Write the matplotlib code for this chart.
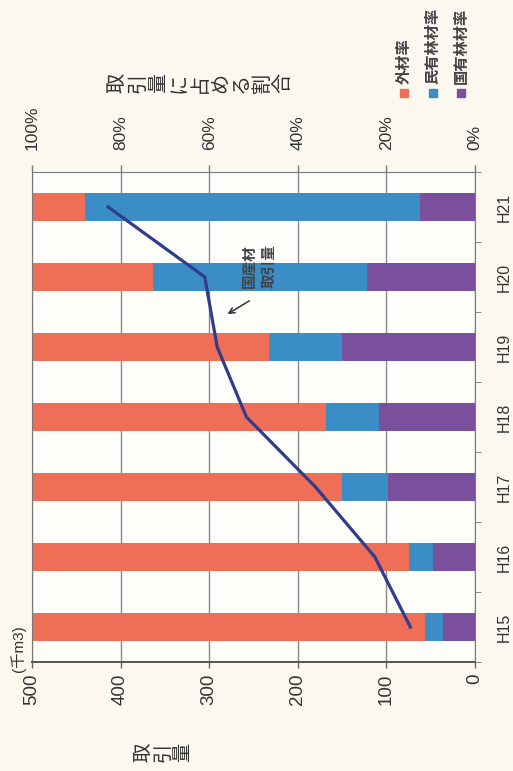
import numpy as np
import matplotlib
matplotlib.use('Agg')
import matplotlib.pyplot as plt
from matplotlib.patches import Rectangle

plt.rcParams['font.family'] = ['Liberation Sans', 'Noto Sans CJK JP', 'DejaVu Sans']

# 年度別の取引量と内訳
years = ['H15', 'H16', 'H17', 'H18', 'H19', 'H20', 'H21']
gaizai = [88.7, 85.2, 69.9, 66.3, 53.4, 27.4, 12.0]      # 外材率 (%)
minyurin = [4.1, 5.4, 10.5, 12.0, 16.6, 48.2, 75.6]     # 民有林材率 (%)
kokuyurin = [7.2, 9.4, 19.6, 21.7, 30.0, 24.4, 12.4]    # 国有林材率 (%)
kokusan = [73, 113, 180, 258, 291, 305, 414]            # 国産材取引量 (千m3)

pct_ticks = [0, 20, 40, 60, 80, 100]
vol_ticks = [0, 100, 200, 300, 400, 500]

c_red = '#ee6e58'
c_blue = '#3b8dc6'
c_purple = '#7a4f9c'
c_line = '#2f3d8c'
c_text = '#333333'
cjk = ['Noto Sans CJK JP', 'DejaVu Sans']

W, H = 513, 771
fig = plt.figure(figsize=(W / 100, H / 100), dpi=100, facecolor='#faf8ef')


def fx(px):
    return px / W


def fy(py):
    return 1 - py / H


ax = fig.add_axes([fx(32), fy(662), fx(475) - fx(32), fy(172) - fy(662)])
ax2 = ax.twiny()
ax.set_facecolor('#fdfdfa')

y = np.arange(len(years))
left = np.zeros(len(years))
for vals, col in [(kokuyurin, c_purple), (minyurin, c_blue), (gaizai, c_red)]:
    ax.barh(y, vals, left=left, height=0.4, color=col, zorder=2)
    left += np.array(vals)

ax.set_xlim(100, 0)
ax.set_ylim(-0.5, len(years) - 0.5)
ax.set_xticks(pct_ticks)
ax.set_xticklabels([f'{t}%' for t in pct_ticks])
ax.xaxis.tick_top()
ax.tick_params(axis='x', which='major', top=True, bottom=False, length=5,
               width=1, color='#777777', direction='out', pad=10.5,
               labelrotation=90, labelsize=12.5, labelcolor=c_text)
ax.grid(axis='x', color='#8a8a8a', linewidth=1, zorder=1)
ax.set_axisbelow(True)

ax.set_yticks(y)
ax.set_yticklabels(years)
ax.set_yticks(np.arange(-0.5, len(years), 1), minor=True)
ax.yaxis.tick_right()
ax.tick_params(axis='y', which='major', length=0, pad=16, labelsize=11.5,
               labelcolor=c_text)
ax.tick_params(axis='y', which='minor', right=True, left=False, length=4,
               color='#777777')
for lab in ax.get_yticklabels():
    lab.set_rotation(90)
    lab.set_va('center')

for side in ['left', 'top', 'right']:
    ax.spines[side].set_color('#7a7a7a')
ax.spines['bottom'].set_color('#555555')
ax.spines['bottom'].set_linewidth(1.4)

# 国産材取引量 (千m3)
ax2.plot(kokusan, y, color=c_line, linewidth=2.3, zorder=3)
ax2.set_xlim(500, 0)
ax2.set_xticks(vol_ticks)
ax2.xaxis.tick_bottom()
ax2.tick_params(axis='x', bottom=True, top=False, length=4, width=1,
                color='#666666', pad=4.5, labelrotation=90, labelsize=13.5,
                labelcolor=c_text)
for s in ax2.spines.values():
    s.set_visible(False)

ax2.text(244, 5.15, '国産材\n取引量', rotation=90, ha='center', va='center',
         fontsize=10.5, fontweight='bold', color='#444444', linespacing=1.35,
         family=cjk, zorder=4)
ax2.annotate('', xy=(282, 4.45), xytext=(252, 4.68),
             arrowprops=dict(arrowstyle='->', color='#333333', lw=1.1))

# 軸タイトル (縦書き)
title_r = '取引量に占める割合'
for i, ch in enumerate(title_r):
    fig.text(fx(117 + i * 20.7), fy(83), ch, rotation=90, ha='center',
             va='center', fontsize=14.5, color=c_text, family=cjk)
title_l = '取引量'
for i, ch in enumerate(title_l):
    fig.text(fx(143 + i * 20), fy(752), ch, rotation=90, ha='center',
             va='center', fontsize=14, color=c_text, family=cjk)
fig.text(fx(18), fy(649), '(千m3)', rotation=90, ha='center', va='center',
         fontsize=11, color=c_text, family=['Liberation Sans', 'Noto Sans CJK JP'])

# 凡例
legend_items = [('外材率', c_red), ('民有林材率', c_blue), ('国有林材率', c_purple)]
for i, (name, col) in enumerate(legend_items):
    cx = 404 + i * 28.5
    fig.add_artist(Rectangle((fx(cx - 4), fy(97)), fx(8), fy(89) - fy(97),
                             transform=fig.transFigure, color=col))
    fig.text(fx(cx), fy(84), name, rotation=90, ha='center', va='bottom',
             fontsize=11, fontweight='bold', color='#444444', family=cjk)

fig.savefig('out.png', dpi=100, facecolor=fig.get_facecolor())
